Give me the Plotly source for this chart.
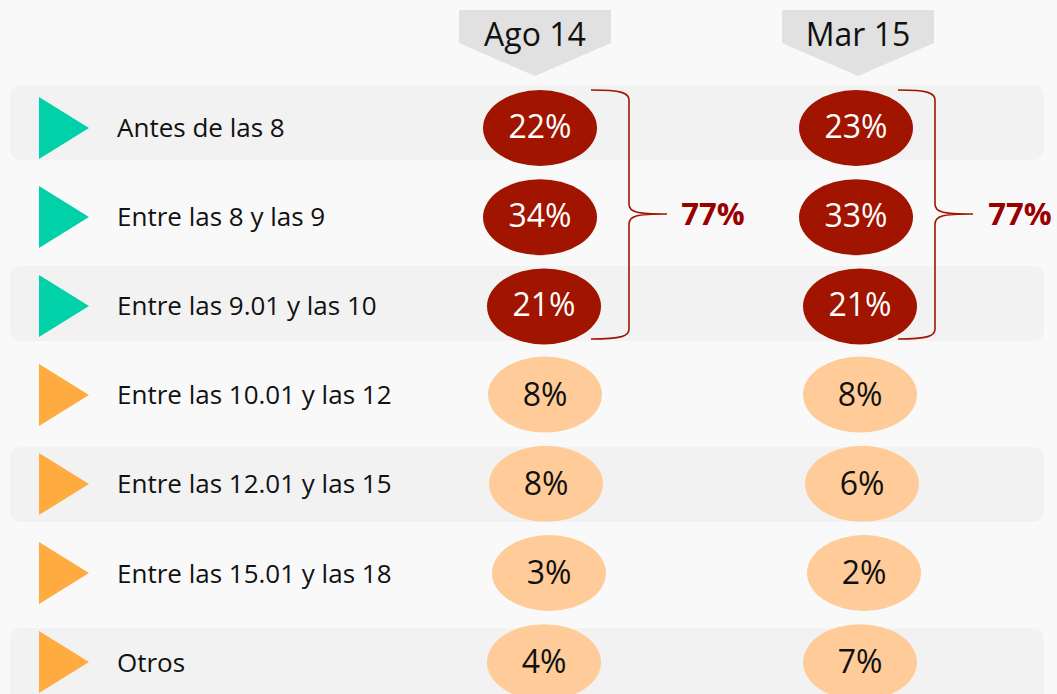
import plotly.graph_objects as go

# data
rows = [
    "Antes de las 8",
    "Entre las 8 y las 9",
    "Entre las 9.01 y las 10",
    "Entre las 10.01 y las 12",
    "Entre las 12.01 y las 15",
    "Entre las 15.01 y las 18",
    "Otros",
]
periods = ["Ago 14", "Mar 15"]
ago14 = [22, 34, 21, 8, 8, 3, 4]
mar15 = [23, 33, 21, 8, 6, 2, 7]
early_rows = 3  # first three rows are the "early" group
early_total = [77, 77]

# layout helpers (pixels)
W, H = 1057, 694
row_y0, row_step = 128, 89.2
col_x = [540, 856]
head_x = [535, 858]
brace_x = [(591, 629, 667), (898, 935, 973)]
total_x = [713, 1020]
nudge = [[0, 0, 4, 5, 6, 9, 4], [0, 0, 4, 4, 6, 8, 4]]
ell_w, ell_h = 114, 76

TEAL = "#00d1a8"
ORANGE = "#ffab40"
DARK = "#a01400"
LIGHT = "#ffcc99"
BAND = "#f2f2f2"
BG = "#f9f9f9"
FONT = "Open Sans"

fig = go.Figure()
shapes = []


def ry(i):
    return row_y0 + i * row_step


# alternating bands
for k, i in enumerate(range(0, len(rows), 2)):
    top = 85 + k * 181
    bot, l, r, rad = top + 75, 10, 1044, 12
    shapes.append(dict(
        type="path", line_width=0, fillcolor=BAND,
        path=(f"M{l+rad},{top} L{r-rad},{top} Q{r},{top} {r},{top+rad} "
              f"L{r},{bot-rad} Q{r},{bot} {r-rad},{bot} L{l+rad},{bot} "
              f"Q{l},{bot} {l},{bot-rad} L{l},{top+rad} Q{l},{top} {l+rad},{top} Z"),
    ))

# triangles
for i in range(len(rows)):
    y = 128 + i * 89
    c = TEAL if i < early_rows else ORANGE
    shapes.append(dict(type="path", line_width=0, fillcolor=c,
                       path=f"M39,{y-31} L89,{y} L39,{y+31} Z"))

# header arrows
for hx in head_x:
    shapes.append(dict(type="path", line_width=0, fillcolor="#e1e1e1",
                       path=f"M{hx-76},10 L{hx+76},10 L{hx+76},43 L{hx},76 L{hx-76},43 Z"))

# ellipses
for c, vals in enumerate([ago14, mar15]):
    for i, v in enumerate(vals):
        cx = col_x[c] + nudge[c][i]
        cy = ry(i) + (0 if i < early_rows else -1)
        shapes.append(dict(type="circle", line_width=0,
                           fillcolor=DARK if i < early_rows else LIGHT,
                           x0=cx - ell_w / 2, x1=cx + ell_w / 2,
                           y0=cy - ell_h / 2, y1=cy + ell_h / 2))

# braces
for x0, xv, xt in brace_x:
    top, mid, bot = 90, 214, 339
    shapes.append(dict(
        type="path", line=dict(color=DARK, width=1.6),
        path=(f"M{x0},{top} C{xv-7},{top} {xv},{top+3} {xv},{top+10} "
              f"L{xv},{mid-10} C{xv},{mid-2} {xv+7},{mid} {xt},{mid} "
              f"C{xv+7},{mid} {xv},{mid+2} {xv},{mid+10} "
              f"L{xv},{bot-10} C{xv},{bot-3} {xv-7},{bot} {x0},{bot}"),
    ))

for s in shapes:
    s["layer"] = "below"

# row labels
fig.add_trace(go.Scatter(
    x=[117] * len(rows), y=[ry(i) + 2 for i in range(len(rows))],
    mode="text", text=rows, textposition="middle right",
    textfont=dict(family=FONT, size=26, color="#111111"),
    hoverinfo="skip", showlegend=False,
))

# headers
fig.add_trace(go.Scatter(
    x=head_x, y=[38, 38], mode="text", text=periods,
    textfont=dict(family=FONT, size=32, color="#111111"),
    hoverinfo="skip", showlegend=False,
))

# percentages
for c, vals in enumerate([ago14, mar15]):
    fig.add_trace(go.Scatter(
        x=[col_x[c] + nudge[c][i] for i in range(len(vals))],
        y=[ry(i) + 2 for i in range(len(vals))],
        mode="text", text=[f"{v}%" for v in vals],
        textfont=dict(family=FONT, size=32,
                      color=["white" if i < early_rows else "#111111" for i in range(len(vals))]),
        hoverinfo="skip", showlegend=False,
    ))

# group totals
fig.add_trace(go.Scatter(
    x=total_x, y=[217, 217], mode="text",
    text=[f"<b>{t}%</b>" for t in early_total],
    textfont=dict(family=FONT, size=31, color="#990000"),
    hoverinfo="skip", showlegend=False,
))

fig.update_layout(
    width=W, height=H, margin=dict(l=0, r=0, t=0, b=0),
    paper_bgcolor=BG, plot_bgcolor=BG, shapes=shapes,
    xaxis=dict(range=[0, W], visible=False, fixedrange=True),
    yaxis=dict(range=[H, 0], visible=False, fixedrange=True),
)
for tr in fig.data:
    tr.cliponaxis = False

fig.write_html("out.html", config={"displayModeBar": False},
               post_script="document.body.style.margin='0';")
